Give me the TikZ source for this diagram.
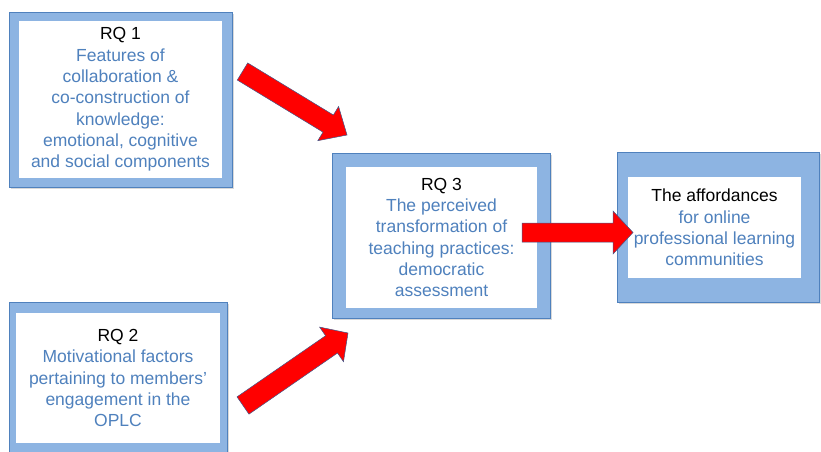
\documentclass[tikz,border=0pt]{standalone}
\usepackage{fontspec}
\setmainfont{Liberation Sans}
\usetikzlibrary{calc,shadows}
\definecolor{boxblue}{RGB}{141,180,226}
\definecolor{edgeblue}{RGB}{79,129,189}
\definecolor{textblue}{RGB}{79,129,189}
\definecolor{arrowred}{RGB}{255,0,0}
\definecolor{arrowedge}{RGB}{70,90,140}

% block arrow from tail #1 to tip #2: shaft half width #3, head half width #4, head length #5
\newcommand\redarrow[5]{%
  \fill[black,opacity=0.25,shift={(1.5pt,-1.5pt)}]
    ($(#1)!#3!90:(#2)$) -- ($($(#2)!#5!(#1)$)!#3!90:(#2)$) --
    ($($(#2)!#5!(#1)$)!#4!90:(#2)$) -- (#2) --
    ($($(#2)!#5!(#1)$)!#4!-90:(#2)$) -- ($($(#2)!#5!(#1)$)!#3!-90:(#2)$) --
    ($(#1)!#3!-90:(#2)$) -- cycle;
  \filldraw[blockarrow]
    ($(#1)!#3!90:(#2)$) -- ($($(#2)!#5!(#1)$)!#3!90:(#2)$) --
    ($($(#2)!#5!(#1)$)!#4!90:(#2)$) -- (#2) --
    ($($(#2)!#5!(#1)$)!#4!-90:(#2)$) -- ($($(#2)!#5!(#1)$)!#3!-90:(#2)$) --
    ($(#1)!#3!-90:(#2)$) -- cycle;}

\begin{document}
\begin{tikzpicture}[x=1pt,y=-1pt,
  outerbox/.style={draw=edgeblue,line width=0.6pt,fill=boxblue,inner sep=0pt,
    drop shadow={shadow xshift=1.5pt,shadow yshift=-1.5pt,opacity=0.3}},
  innerbox/.style={fill=white,inner sep=0pt},
  boxtext/.style={align=center,inner sep=0pt,text=textblue,
    font=\fontsize{17.5pt}{21.3pt}\selectfont},
  headline/.style={text=black},
  blockarrow/.style={fill=arrowred,draw=arrowedge,line width=0.5pt,line join=miter}]
\useasboundingbox (0,0) rectangle (821,451);
\clip (0,0) rectangle (821,451);

% RQ 1
\node[outerbox,minimum width=223pt,minimum height=175pt] (rq1) at (120.5,99.5) {};
\node[innerbox,minimum width=203pt,minimum height=157pt] (rq1in) at (120.5,99.5) {};
\node[boxtext] (rq1t) at (rq1in.center) {\textcolor{black}{RQ 1}\\Features of\\collaboration \&\\co-construction of\\knowledge:\\emotional, cognitive\\and social components};

% RQ 2
\node[outerbox,minimum width=218pt,minimum height=153pt] (rq2) at (118,378.5) {};
\node[innerbox,minimum width=204pt,minimum height=130pt] (rq2in) at (118,378) {};
\node[boxtext] (rq2t) at (rq2in.center) {\textcolor{black}{RQ 2}\\Motivational factors\\pertaining to members'\\engagement in the\\OPLC};

% RQ 3
\node[outerbox,minimum width=218pt,minimum height=165pt] (rq3) at (441,235.5) {};
\node[innerbox,minimum width=191pt,minimum height=141pt] (rq3in) at (441.5,237.5) {};
\node[boxtext] (rq3t) at (rq3in.center) {\textcolor{black}{RQ 3}\\The perceived\\transformation of\\teaching practices:\\democratic\\assessment};

% Outcome
\node[outerbox,minimum width=202pt,minimum height=150pt] (aff) at (718,227) {};
\node[innerbox,minimum width=173pt,minimum height=101pt] (affin) at (714.5,227.5) {};
\node[boxtext] (afft) at (affin.center) {\textcolor{black}{The affordances}\\for online\\professional learning\\communities};

% arrow end points
\coordinate (a1t) at (242.5,71.5);
\coordinate (a1h) at (347,135);
\coordinate (a2t) at (243,405.5);
\coordinate (a2h) at (348,333);
\coordinate (a3t) at (522,232.5);
\coordinate (a3h) at (633,232.5);

\redarrow{a1t}{a1h}{10pt}{20pt}{22pt}
\redarrow{a2t}{a2h}{10.5pt}{21pt}{20pt}
\redarrow{a3t}{a3h}{9.5pt}{21.5pt}{20pt}
\end{tikzpicture}
\end{document}
